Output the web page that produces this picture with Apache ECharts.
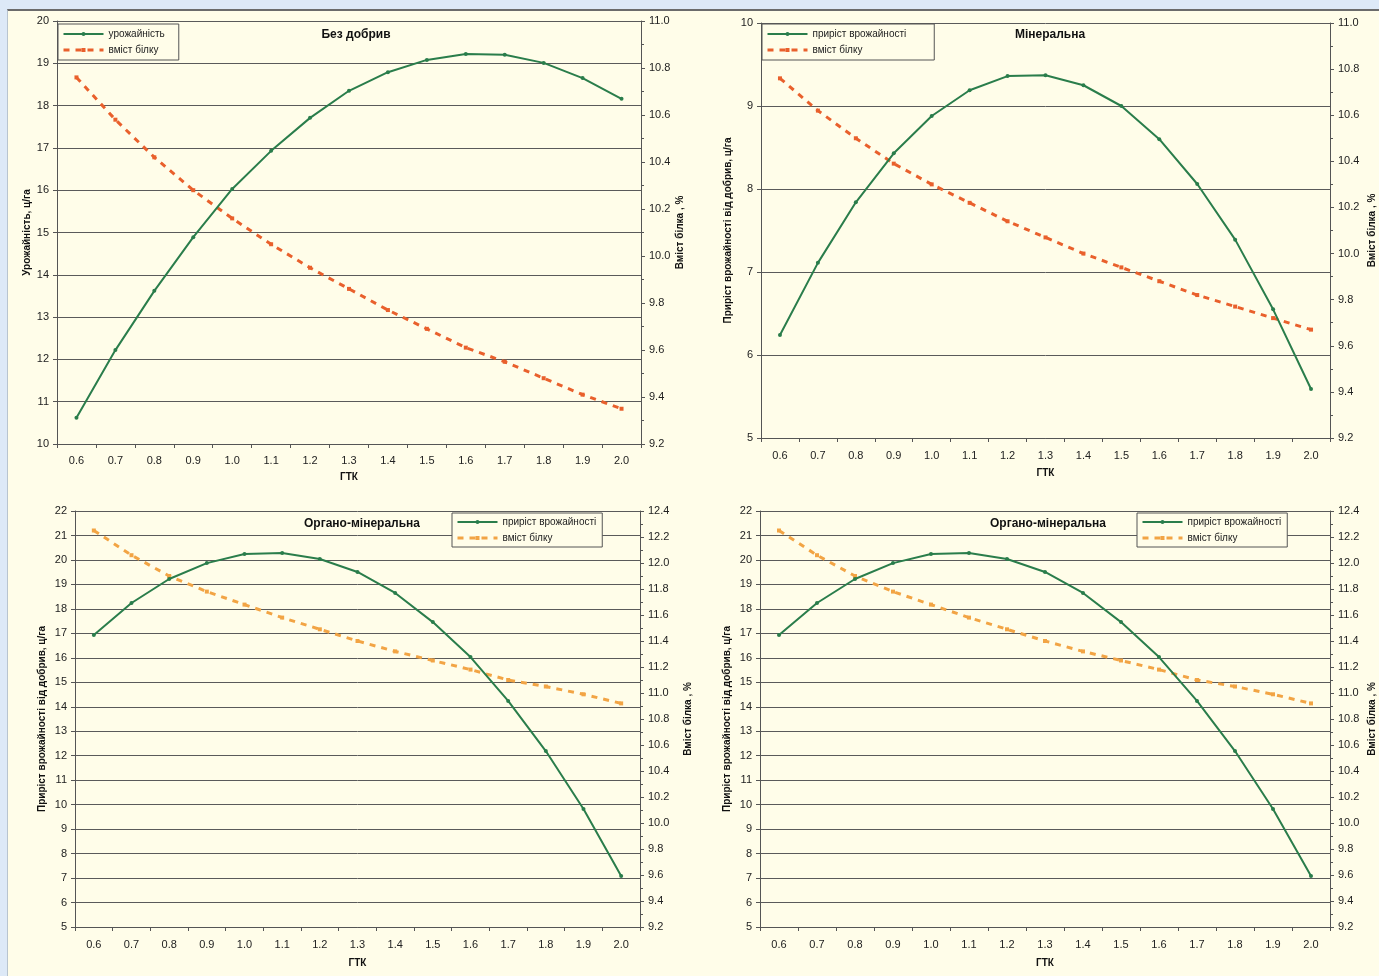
<!DOCTYPE html>
<html><head><meta charset="utf-8">
<script src="https://cdn.jsdelivr.net/npm/echarts@6/dist/echarts.min.js"></script>
<style>
html,body{margin:0;padding:0;width:1379px;height:976px;background:#dde9f7;overflow:hidden;}
#panel{position:absolute;left:7px;top:9px;width:1372px;height:967px;background:#fffde9;border-top:2px solid #6b6b6b;border-left:1px solid #b8c4cf;}
#chart{position:absolute;left:0;top:0;width:1379px;height:976px;}
</style></head>
<body>
<div id="panel"></div>
<div id="chart"></div>
<script>
const gtk = ['0.6','0.7','0.8','0.9','1.0','1.1','1.2','1.3','1.4','1.5','1.6','1.7','1.8','1.9','2.0'];
// Chart 1: Без добрив
const yieldNoFert = [10.62,12.22,13.62,14.89,16.03,16.93,17.71,18.35,18.79,19.08,19.22,19.20,19.01,18.65,18.16];
const proteinNoFert = [10.76,10.58,10.42,10.28,10.16,10.05,9.95,9.86,9.77,9.69,9.61,9.55,9.48,9.41,9.35];
// Chart 2: Мінеральна
const gainMineral = [6.24,7.11,7.84,8.43,8.88,9.19,9.36,9.37,9.25,9.00,8.60,8.06,7.39,6.55,5.59];
const proteinMineral = [10.76,10.62,10.50,10.39,10.30,10.22,10.14,10.07,10.00,9.94,9.88,9.82,9.77,9.72,9.67];
// Chart 3: Органо-мінеральна
const gainOrgMin1 = [16.93,18.24,19.22,19.87,20.24,20.28,20.04,19.51,18.65,17.46,16.03,14.24,12.19,9.82,7.08];
const proteinOrgMin1 = [12.25,12.06,11.90,11.78,11.68,11.58,11.49,11.40,11.32,11.25,11.18,11.10,11.05,10.99,10.92];
// Chart 4: Органо-мінеральна
const gainOrgMin2 = [16.93,18.24,19.22,19.87,20.24,20.28,20.04,19.51,18.65,17.46,16.03,14.24,12.19,9.82,7.08];
const proteinOrgMin2 = [12.25,12.06,11.90,11.78,11.68,11.58,11.49,11.40,11.32,11.25,11.18,11.10,11.05,10.99,10.92];

const titles = ['Без добрив','Мінеральна','Органо-мінеральна','Органо-мінеральна'];
const leftNames = ['Урожайність, ц/га','Приріст врожайності від добрив, ц/га','Приріст врожайності від добрив, ц/га','Приріст врожайності від добрив, ц/га'];
const rightName = 'Вміст білка , %';
const greenNames = ['урожайність','приріст врожайності','приріст врожайності','приріст врожайності'];
const orangeName = 'вміст білку';
const xName = 'ГТК';

const GREEN = '#2a7d4b';
const ORANGE1 = '#e9602c';
const ORANGE2 = '#f2a444';
const FONT = 'Liberation Sans, Arial, sans-serif';

const grids = [
  {left:57, top:21, width:584, height:423},
  {left:761, top:23, width:569, height:415},
  {left:75, top:511, width:565, height:416},
  {left:760, top:511, width:570, height:416}
];
const leftRanges = [[10,20],[5,10],[5,22],[5,22]];
const rightRanges = [[9.2,11.0],[9.2,11.0],[9.2,12.4],[9.2,12.4]];
const leftGaps = [25,28,28,28];
const rightGaps = [34,37,43,37];
const xGaps = [28,30,31,31];
const xMargins = [11,12,12,12];
const greenData = [yieldNoFert, gainMineral, gainOrgMin1, gainOrgMin2];
const orangeData = [proteinNoFert, proteinMineral, proteinOrgMin1, proteinOrgMin2];
const orangeColors = [ORANGE1, ORANGE1, ORANGE2, ORANGE2];
const titlePos = [[356,29],[1050,29],[362,518],[1048,518]];
const legendPos = [
  {left:58, top:24, padding:[5,14,5,4]},
  {left:762, top:24, padding:[5,28,5,4]},
  {left:452, top:513, padding:[4,6,4,4]},
  {left:1137, top:513, padding:[4,6,4,4]}
];

const axisLabelStyle = {color:'#222', fontSize:11, fontFamily:FONT};
const nameStyle = {color:'#111', fontSize:10, fontWeight:'bold', fontFamily:FONT};

const xAxis = [], yAxis = [], series = [], title = [], legend = [];
for (let i = 0; i < 4; i++) {
  xAxis.push({
    type:'category', gridIndex:i, data:gtk, boundaryGap:true,
    name:xName, nameLocation:'middle', nameGap:xGaps[i], nameTextStyle:nameStyle,
    axisLine:{lineStyle:{color:'#555', width:1}},
    axisTick:{show:true, interval:0, length:4, lineStyle:{color:'#555'}},
    axisLabel:Object.assign({margin:xMargins[i], interval:0}, axisLabelStyle),
    splitLine:{show:false}
  });
  yAxis.push({
    type:'value', gridIndex:i, position:'left',
    min:leftRanges[i][0], max:leftRanges[i][1], interval:1,
    name:leftNames[i], nameLocation:'middle', nameGap:leftGaps[i], nameTextStyle:nameStyle,
    axisLine:{show:true, lineStyle:{color:'#555', width:1}},
    axisTick:{show:true, length:4, lineStyle:{color:'#555'}},
    axisLabel:Object.assign({margin:8}, axisLabelStyle),
    splitLine:{show:true, lineStyle:{color:'#5a5a5a', width:1}}
  });
  yAxis.push({
    type:'value', gridIndex:i, position:'right',
    min:rightRanges[i][0], max:rightRanges[i][1], interval:0.2,
    name:rightName, nameLocation:'middle', nameGap:rightGaps[i], nameTextStyle:nameStyle,
    axisLine:{show:true, lineStyle:{color:'#555', width:1}},
    axisTick:{show:true, length:4, lineStyle:{color:'#555'}},
    minorTick:{show:true, splitNumber:2, length:3, lineStyle:{color:'#555'}},
    axisLabel:Object.assign({margin:8, formatter:v => v.toFixed(1)}, axisLabelStyle),
    splitLine:{show:false}
  });
  series.push({
    name:greenNames[i], type:'line', xAxisIndex:i, yAxisIndex:2*i,
    data:greenData[i], smooth:false,
    symbol:'circle', symbolSize:4, showSymbol:true,
    lineStyle:{color:GREEN, width:2}, itemStyle:{color:GREEN},
    z:3, animation:false
  });
  series.push({
    name:orangeName, type:'line', xAxisIndex:i, yAxisIndex:2*i+1,
    data:orangeData[i], smooth:false,
    symbol:'rect', symbolSize:4, showSymbol:true,
    lineStyle:{color:orangeColors[i], width:3, type:[6,6]}, itemStyle:{color:orangeColors[i]},
    z:2, animation:false
  });
  title.push({
    text:titles[i], left:titlePos[i][0], top:titlePos[i][1], textAlign:'center', padding:0,
    textStyle:{fontSize:12, fontWeight:'bold', color:'#111', fontFamily:FONT}
  });
  legend.push(Object.assign({
    orient:'vertical',
    data:[
      {name:greenNames[i]},
      {name:orangeName, itemStyle:{color:orangeColors[i]}, lineStyle:{color:orangeColors[i], type:[6,6], width:3}}
    ],
    itemWidth:40, itemHeight:5, itemGap:6,
    borderColor:'#555', borderWidth:1, backgroundColor:'#fffde9',
    textStyle:{fontSize:10, color:'#222', fontFamily:FONT},
    selectedMode:false
  }, legendPos[i]));
}

const chart = echarts.init(document.getElementById('chart'), null, {renderer:'canvas'});
chart.setOption({
  backgroundColor:'transparent',
  animation:false,
  title:title,
  legend:legend,
  grid:grids.map(g => Object.assign({containLabel:false}, g)),
  xAxis:xAxis,
  yAxis:yAxis,
  series:series
});
</script>
</body></html>
